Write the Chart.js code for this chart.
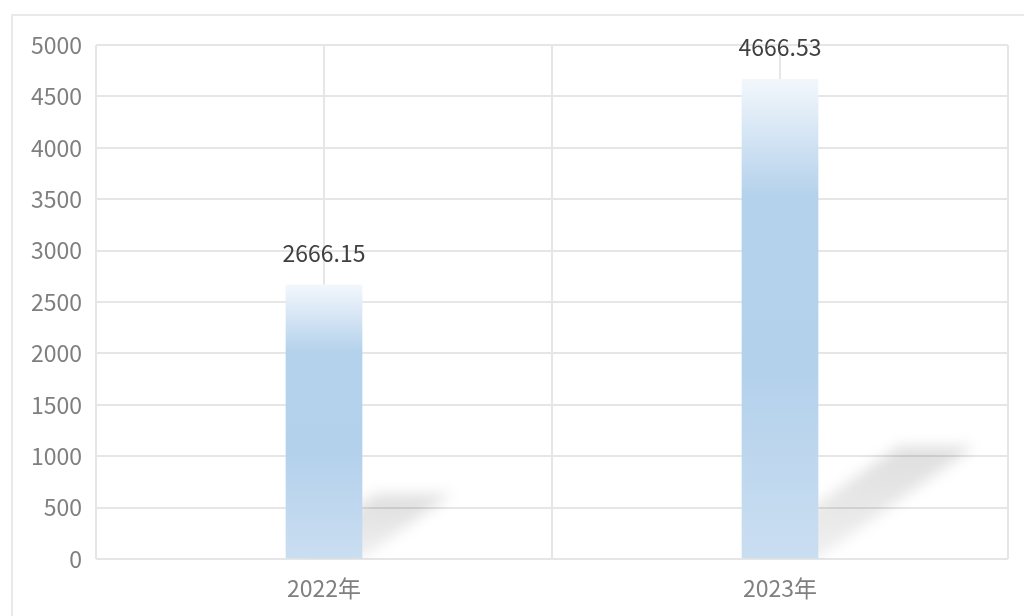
<!DOCTYPE html>
<html>
<head>
<meta charset="utf-8">
<script src="https://cdn.jsdelivr.net/npm/chart.js@4/dist/chart.umd.min.js"></script>
<style>
html,body{margin:0;padding:0;background:#fff;overflow:hidden;}
#wrap{position:relative;width:1024px;height:616px;}
#frame{position:absolute;left:11px;top:14px;width:1100px;height:700px;border:2px solid #e9e9e9;box-sizing:border-box;}
canvas{position:absolute;left:0;top:0;}
</style>
</head>
<body>
<div id="wrap"><div id="frame"></div><canvas id="c" width="1024" height="616"></canvas></div>
<script>
const categories = ['2022年', '2023年'];
const values = [2666.15, 4666.53];
const valueLabels = ['2666.15', '4666.53'];
const yMin = 0, yMax = 5000, yStep = 500;

const FONT = "'Noto Sans CJK SC', 'Noto Sans', sans-serif";
const GRID = '#e6e6e6';

function barGradient(context) {
  const chart = context.chart;
  const {ctx, chartArea, scales} = chart;
  if (!chartArea || !scales.y) return '#b4d2ec';
  const v = context.raw;
  const top = scales.y.getPixelForValue(v);
  const bot = scales.y.getPixelForValue(0);
  const g = ctx.createLinearGradient(0, top, 0, bot);
  g.addColorStop(0, '#f3f7fc');
  g.addColorStop(0.24, '#b5d2ec');
  g.addColorStop(0.62, '#b4d1ec');
  g.addColorStop(1, '#cadef1');
  return g;
}

const shadowPlugin = {
  id: 'shadowPlugin',
  beforeDatasetsDraw(chart) {
    const {ctx, chartArea} = chart;
    const meta = chart.getDatasetMeta(0);
    ctx.save();
    ctx.beginPath();
    ctx.rect(chartArea.left, chartArea.top, chartArea.right - chartArea.left, chartArea.bottom - chartArea.top);
    ctx.clip();
    meta.data.forEach(bar => {
      const h = bar.base - bar.y;
      const rise = 0.233 * h;
      const shift = 1.4 * rise;
      const l = bar.x - bar.width / 2, r = bar.x + bar.width / 2;
      const g = ctx.createLinearGradient(0, bar.base, 0, bar.base - rise);
      g.addColorStop(0, 'rgba(0,0,0,0.06)');
      g.addColorStop(1, 'rgba(0,0,0,0.13)');
      ctx.filter = 'blur(7px)';
      ctx.fillStyle = g;
      ctx.beginPath();
      ctx.moveTo(l, bar.base);
      ctx.lineTo(r, bar.base);
      ctx.lineTo(r + shift, bar.base - rise);
      ctx.lineTo(l + shift, bar.base - rise);
      ctx.closePath();
      ctx.fill();
    });
    ctx.restore();
  },
  afterDatasetsDraw(chart) {
    const {ctx} = chart;
    const meta = chart.getDatasetMeta(0);
    ctx.save();
    ctx.font = "23px " + FONT;
    ctx.fillStyle = '#404040';
    ctx.textAlign = 'center';
    ctx.textBaseline = 'middle';
    meta.data.forEach((bar, i) => {
      ctx.fillText(valueLabels[i], bar.x, bar.y - 32);
    });
    ctx.restore();
  }
};

new Chart(document.getElementById('c'), {
  type: 'bar',
  data: {
    labels: categories,
    datasets: [{
      data: values,
      backgroundColor: barGradient,
      borderWidth: 0,
      barThickness: 76
    }]
  },
  options: {
    responsive: false,
    animation: false,
    plugins: { legend: {display: false}, tooltip: {enabled: false} },
    layout: { padding: {left: 0, right: 16, top: 45, bottom: 0} },
    scales: {
      x: {
        offset: true,
        grid: { offset: true, color: GRID, lineWidth: 2, drawTicks: false },
        border: { display: false },
        ticks: { color: '#7f7f7f', font: {family: FONT, size: 23}, padding: 15 },
        afterFit: s => { s.height = 57; }
      },
      x2: {
        type: 'category',
        labels: categories,
        position: 'bottom',
        offset: true,
        grid: { offset: false, color: GRID, lineWidth: 2, drawTicks: false },
        border: { display: false },
        ticks: { display: false },
        afterFit: s => { s.height = 0; }
      },
      y: {
        min: yMin, max: yMax,
        ticks: { stepSize: yStep, color: '#7f7f7f', font: {family: FONT, size: 23}, padding: 14,
                 callback: v => String(v) },
        grid: { color: GRID, lineWidth: 2, drawTicks: false },
        border: { display: false },
        afterFit: s => { s.width = 96; }
      }
    }
  },
  plugins: [shadowPlugin]
});
</script>
</body>
</html>
